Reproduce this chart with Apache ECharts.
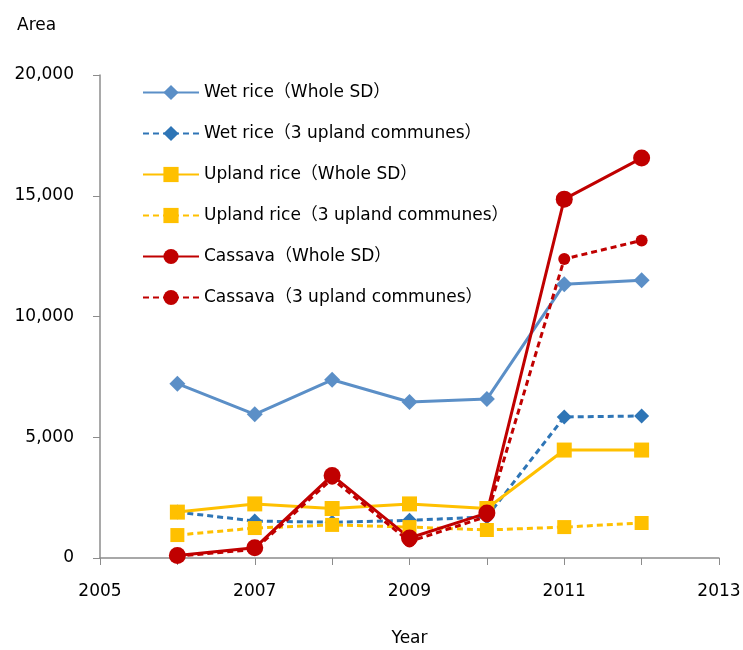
<!DOCTYPE html>
<html>
<head>
<meta charset="utf-8">
<script src="https://cdn.jsdelivr.net/npm/echarts@6/dist/echarts.min.js"></script>
<style>
  html, body { margin: 0; padding: 0; background: #fff; }
  #main { width: 743px; height: 650px; }
</style>
</head>
<body>
<div id="main"></div>
<script>
const years = [2006, 2007, 2008, 2009, 2010, 2011, 2012];
const wetWhole = [7220, 5950, 7380, 6460, 6580, 11340, 11500];
const wetUpland = [1900, 1530, 1480, 1560, 1700, 5840, 5880];
const uplandWhole = [1900, 2240, 2050, 2240, 2050, 4470, 4470];
const uplandUpland = [950, 1240, 1370, 1280, 1160, 1280, 1450];
const cassavaWhole = [100, 420, 3420, 830, 1860, 14860, 16560];
const cassavaUpland = [80, 350, 3280, 680, 1720, 12380, 13150];
const names = [
  'Wet rice（Whole SD）',
  'Wet rice（3 upland communes）',
  'Upland rice（Whole SD）',
  'Upland rice（3 upland communes）',
  'Cassava（Whole SD）',
  'Cassava（3 upland communes）'
];

const font = '"DejaVu Sans", "Noto Sans CJK JP", sans-serif';
const chart = echarts.init(document.getElementById('main'));

function pairs(vals) {
  return years.map((y, i) => [y, vals[i]]);
}

function makeSeries(name, vals, color, dashed, symbol, size) {
  return {
    name: name,
    type: 'line',
    data: pairs(vals),
    symbol: symbol,
    symbolSize: size,
    showSymbol: true,
    lineStyle: { color: color, width: 3, type: dashed ? [6, 4] : 'solid' },
    itemStyle: { color: color },
    emphasis: { disabled: true }
  };
}

const option = {
  animation: false,
  title: {
    text: 'Area',
    left: 12,
    top: 12,
    textStyle: { fontFamily: font, fontSize: 17, fontWeight: 'normal', color: '#000' }
  },
  legend: {
    orient: 'vertical',
    left: 137,
    top: 79,
    itemWidth: 56,
    itemHeight: 19,
    itemGap: 24,
    textStyle: { fontFamily: font, fontSize: 17, color: '#000' },
    data: names
  },
  grid: { left: 100, right: 24, top: 75, bottom: 92, outerBoundsMode: 'none' },
  xAxis: {
    type: 'value',
    min: 2005,
    max: 2013,
    interval: 2,
    name: 'Year',
    nameLocation: 'middle',
    nameGap: 72,
    nameTextStyle: { fontFamily: font, fontSize: 17, color: '#000' },
    axisLine: { lineStyle: { color: '#8c8c8c', width: 1.5 } },
    axisTick: { show: true, length: 7, inside: false, lineStyle: { color: '#8c8c8c' } },
    minorTick: { show: true, splitNumber: 2, length: 7, lineStyle: { color: '#8c8c8c' } },
    splitLine: { show: false },
    axisLabel: {
      fontFamily: font, fontSize: 17, color: '#000', margin: 25,
      formatter: v => String(v)
    }
  },
  yAxis: {
    type: 'value',
    min: 0,
    max: 20000,
    interval: 5000,
    axisLine: { show: true, lineStyle: { color: '#8c8c8c', width: 1.5 } },
    axisTick: { show: true, length: 7, lineStyle: { color: '#8c8c8c' } },
    splitLine: { show: false },
    axisLabel: {
      fontFamily: font, fontSize: 17, color: '#000', margin: 26,
      formatter: v => v.toLocaleString('en-US')
    }
  },
  series: [
    makeSeries(names[0], wetWhole, '#5b8fc7', false, 'diamond', 16),
    makeSeries(names[1], wetUpland, '#2e75b6', true, 'diamond', 15),
    makeSeries(names[2], uplandWhole, '#ffc000', false, 'rect', 15),
    makeSeries(names[3], uplandUpland, '#ffc000', true, 'rect', 14),
    makeSeries(names[4], cassavaWhole, '#c00000', false, 'circle', 17),
    makeSeries(names[5], cassavaUpland, '#c00000', true, 'circle', 12)
  ]
};

chart.setOption(option);
</script>
</body>
</html>
